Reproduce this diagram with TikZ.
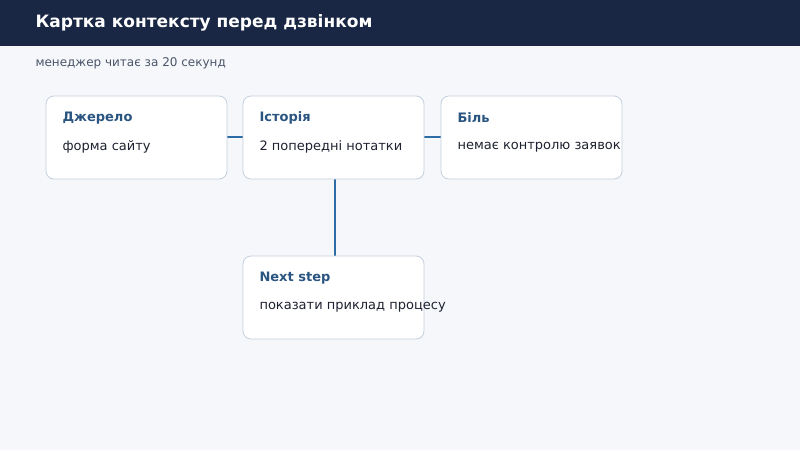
\documentclass[tikz,border=0pt]{standalone}
\usepackage{fontspec}
\setmainfont{DejaVu Sans}
\definecolor{hdr}{HTML}{1A2744}
\definecolor{bg}{HTML}{F5F7FB}
\definecolor{ttl}{HTML}{2A5580}
\definecolor{txt}{HTML}{1E2230}
\definecolor{sub}{HTML}{4A5568}
\definecolor{line}{HTML}{2E6DA4}
\definecolor{bord}{HTML}{C5D0DE}
\begin{document}
\begin{tikzpicture}[x=1pt,y=-1pt,
  card/.style={draw=bord,fill=white,rounded corners=8pt,line width=0.8pt},
  ctitle/.style={anchor=west,text=ttl,font=\fontsize{13}{15}\selectfont\bfseries},
  cbody/.style={anchor=west,text=txt,font=\fontsize{13}{15}\selectfont},
  conn/.style={draw=line,line width=2.5pt}]
\useasboundingbox (0,0) rectangle (800,450);
\fill[bg] (0,0) rectangle (800,450);
\fill[hdr] (0,0) rectangle (800,46);
\node[anchor=west,text=white,font=\fontsize{17}{20}\selectfont\bfseries] (t) at (32,23) {Картка контексту перед дзвінком};
\node[anchor=west,text=sub,font=\fontsize{12}{14}\selectfont] (s) at (32,63) {менеджер читає за 20 секунд};
\draw[conn] (227,137) coordinate (c1) -- (243,137) coordinate (c2);
\draw[conn] (424,137) coordinate (c3) -- (441,137) coordinate (c4);
\draw[conn] (335,179) coordinate (c5) -- (335,256) coordinate (c6);
\draw[card] (46,96) rectangle (227,179);
\draw[card] (243,96) rectangle (424,179);
\draw[card] (441,96) rectangle (622,179);
\draw[card] (243,256) rectangle (424,339);
\node[ctitle] (a1) at (59,118) {Джерело};
\node[cbody] (a2) at (59,147) {форма сайту};
\node[ctitle] (b1) at (256,118) {Історія};
\node[cbody] (b2) at (256,147) {2 попередні нотатки};
\node[ctitle] (d1) at (454,118) {Біль};
\node[cbody] (d2) at (454,147) {немає контролю заявок};
\node[ctitle] (e1) at (256,278) {Next step};
\node[cbody] (e2) at (256,307) {показати приклад процесу};
\end{tikzpicture}
\end{document}
